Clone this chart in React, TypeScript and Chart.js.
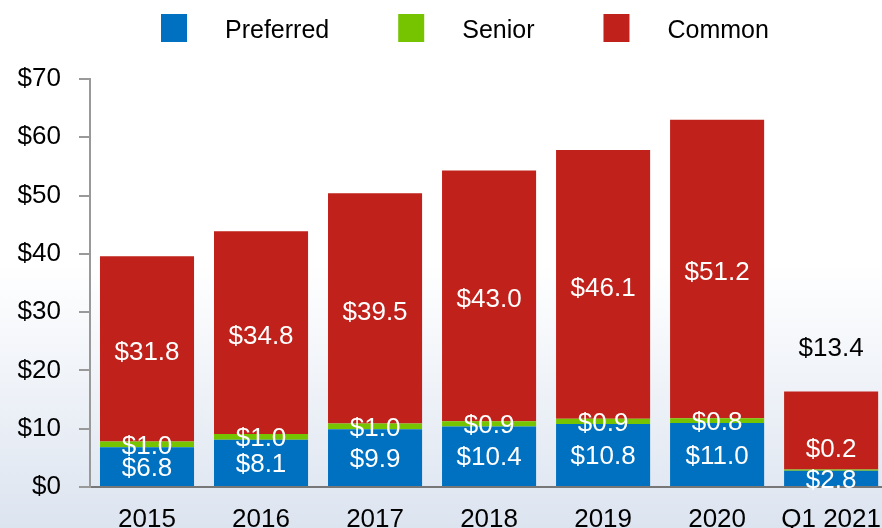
import React, { useEffect, useRef } from "react";
import { Chart, registerables } from "chart.js";

Chart.register(...registerables);

const categories = ["2015", "2016", "2017", "2018", "2019", "2020", "Q1 2021"];
const preferred = [6.8, 8.1, 9.9, 10.4, 10.8, 11.0, 2.8];
const senior = [1.0, 1.0, 1.0, 0.9, 0.9, 0.8, 0.2];
const common = [31.8, 34.8, 39.5, 43.0, 46.1, 51.2, 13.4];
const seriesNames = ["Preferred", "Senior", "Common"];
const yTicks = [0, 10, 20, 30, 40, 50, 60, 70];

const COLORS = ["#0070C0", "#76C400", "#C0211A"];
const FONT = '"Liberation Sans", Arial, Helvetica, sans-serif';

const legendPlugin = {
  id: "customLegend",
  afterDraw(chart: any) {
    const ctx = chart.ctx;
    ctx.save();
    ctx.font = `25px ${FONT}`;
    ctx.textBaseline = "middle";
    ctx.textAlign = "left";
    let x = 161;
    chart.data.datasets.forEach((ds: any) => {
      ctx.fillStyle = ds.backgroundColor;
      ctx.fillRect(x, 14, 26, 28);
      ctx.fillStyle = "#000";
      const tx = x + 26 + 38;
      ctx.fillText(ds.label, tx, 31);
      x = tx + ctx.measureText(ds.label).width + 69;
    });
    ctx.restore();
  },
};

const labelPlugin = {
  id: "barLabels",
  afterDatasetsDraw(chart: any) {
    const ctx = chart.ctx;
    ctx.save();
    ctx.font = `26px ${FONT}`;
    ctx.textAlign = "center";
    ctx.textBaseline = "middle";
    const n = chart.data.labels.length;
    chart.data.datasets.forEach((ds: any, di: number) => {
      const meta = chart.getDatasetMeta(di);
      meta.data.forEach((el: any, i: number) => {
        const v = ds.data[i];
        const text = "$" + v.toFixed(1);
        let y = (el.y + el.base) / 2 + (di === 2 ? 4 : 2);
        let color = "#fff";
        if (i === n - 1) {
          if (di === 1) y -= 22;
          if (di === 2) {
            y = el.y - 43;
            color = "#000";
          }
        }
        ctx.fillStyle = color;
        ctx.fillText(text, el.x, y);
      });
    });
    ctx.restore();
  },
};

export default function App() {
  const ref = useRef<HTMLCanvasElement>(null);
  useEffect(() => {
    const canvas = ref.current!;
    const datasets = [preferred, senior, common].map((d, i) => ({
      label: seriesNames[i],
      data: d,
      backgroundColor: COLORS[i],
      borderWidth: 0,
      barPercentage: 0.825,
      categoryPercentage: 1,
    }));
    const chart = new Chart(canvas, {
      type: "bar",
      data: { labels: categories, datasets },
      plugins: [legendPlugin, labelPlugin],
      options: {
        animation: false,
        responsive: false,
        maintainAspectRatio: false,
        layout: { padding: { top: 79, right: 0, left: 0, bottom: 0 } },
        plugins: {
          legend: { display: false },
          tooltip: { enabled: false },
        },
        scales: {
          x: {
            stacked: true,
            grid: { display: false },
            border: { display: true, color: "#777", width: 2 },
            ticks: {
              color: "#000",
              font: { family: FONT, size: 26 },
              padding: 9,
              maxRotation: 0,
              autoSkip: false,
            },
            afterFit(scale: any) {
              scale.height = 41;
            },
          },
          y: {
            stacked: true,
            min: 0,
            max: 70,
            afterBuildTicks(scale: any) {
              scale.ticks = yTicks.map((v) => ({ value: v }));
            },
            grid: {
              drawOnChartArea: false,
              tickLength: 11,
              color: "#999",
              lineWidth: 2,
            },
            border: { display: true, color: "#999", width: 2 },
            ticks: {
              color: "#000",
              font: { family: FONT, size: 26 },
              padding: 18,
              callback: (v: any) => "$" + v,
            },
            afterFit(scale: any) {
              scale.width = 90;
            },
          },
        },
      },
    });
    return () => chart.destroy();
  }, []);
  return (
    <div
      style={{
        position: "fixed",
        left: 0,
        top: 0,
        width: 882,
        height: 528,
        overflow: "hidden",
        background:
          "linear-gradient(to bottom, #ffffff 0%, #ffffff 50%, #dce4f0 100%)",
      }}
    >
      <canvas ref={ref} width={890} height={528} style={{ width: 890, height: 528, display: "block" }} />
    </div>
  );
}
